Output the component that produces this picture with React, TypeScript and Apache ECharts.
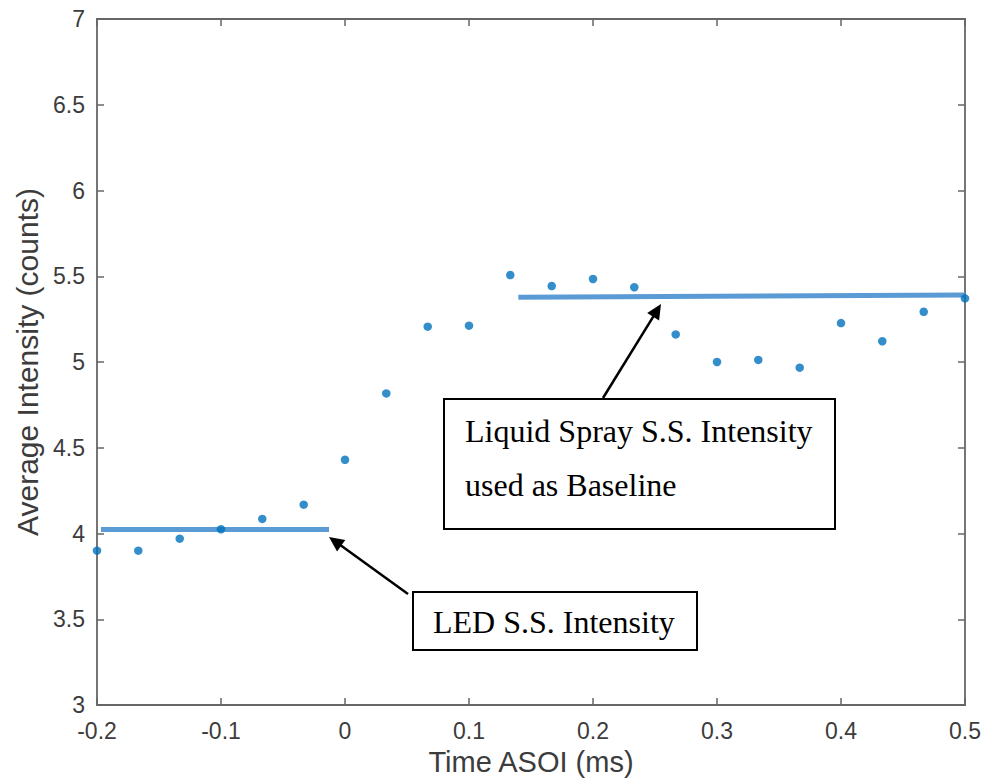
import React, { useEffect, useRef } from "react";
import * as echarts from "echarts";

const timeMs = [
  -0.2, -0.1667, -0.1333, -0.1, -0.0667, -0.0333, 0, 0.0333, 0.0667, 0.1, 0.1333,
  0.1667, 0.2, 0.2333, 0.2667, 0.3, 0.3333, 0.3667, 0.4, 0.4333, 0.4667, 0.5,
];
const intensity = [
  3.9, 3.9, 3.97, 4.025, 4.085, 4.168, 4.43, 4.817, 5.206, 5.212, 5.507,
  5.443, 5.484, 5.436, 5.161, 5.0, 5.012, 4.967, 5.227, 5.121, 5.293, 5.371,
];
const ledLineX = [-0.1968, -0.0129];
const ledLineY = [4.024, 4.024];
const sprayLineX = [0.1398, 0.5];
const sprayLineY = [5.377, 5.391];
const xTicks = { min: -0.2, max: 0.5, interval: 0.1 };
const yTicks = { min: 3, max: 7, interval: 0.5 };
const ledLabel = "LED S.S. Intensity";
const sprayLabel = ["Liquid Spray S.S. Intensity", "used as Baseline"];

function arrow(x1: number, y1: number, x2: number, y2: number) {
  const dx = x2 - x1;
  const dy = y2 - y1;
  const len = Math.sqrt(dx * dx + dy * dy);
  const ux = dx / len;
  const uy = dy / len;
  const hl = 15;
  const hw = 7;
  const bx = x2 - hl * ux;
  const by = y2 - hl * uy;
  const nx = -uy;
  const ny = ux;
  return [
    {
      type: "line",
      shape: { x1, y1, x2: bx + 2 * ux, y2: by + 2 * uy },
      style: { stroke: "#000", lineWidth: 2.5 },
      z: 100,
    },
    {
      type: "polygon",
      shape: {
        points: [
          [x2, y2],
          [bx + hw * nx, by + hw * ny],
          [bx - hw * nx, by - hw * ny],
        ],
      },
      style: { fill: "#000" },
      z: 100,
    },
  ];
}

export default function App() {
  const ref = useRef<HTMLDivElement>(null);
  useEffect(() => {
    if (!ref.current) return;
    const chart = echarts.init(ref.current, null, { renderer: "svg" });
    const axisColor = "#666666";
    const textColor = "#3c3c3c";
    const font = "'Liberation Sans', Arial, sans-serif";
    const serif = "'Liberation Serif', 'Times New Roman', serif";
    const fmt = (v: number) => String(Math.round(v * 10) / 10);
    const commonX = {
      type: "value",
      min: xTicks.min,
      max: xTicks.max,
      interval: xTicks.interval,
      axisLine: { show: true, onZero: false, lineStyle: { color: axisColor, width: 1.8 } },
      axisTick: { show: true, inside: true, length: 7, lineStyle: { color: axisColor, width: 1.5 } },
      splitLine: { show: false },
    };
    const commonY = {
      type: "value",
      min: yTicks.min,
      max: yTicks.max,
      interval: yTicks.interval,
      axisLine: { show: true, onZero: false, lineStyle: { color: axisColor, width: 1.8 } },
      axisTick: { show: true, inside: true, length: 7, lineStyle: { color: axisColor, width: 1.5 } },
      splitLine: { show: false },
    };
    chart.setOption({
      animation: false,
      backgroundColor: "#ffffff",
      grid: { left: 97, right: 22, top: 19, bottom: 78, containLabel: false },
      xAxis: [
        {
          ...commonX,
          position: "bottom",
          name: "Time ASOI (ms)",
          nameLocation: "middle",
          nameGap: 42,
          nameTextStyle: { color: textColor, fontSize: 29, fontFamily: font },
          axisLabel: { color: textColor, fontSize: 23, fontFamily: font, margin: 14, formatter: fmt },
        },
        { ...commonX, position: "top", axisLabel: { show: false } },
      ],
      yAxis: [
        {
          ...commonY,
          position: "left",
          name: "Average Intensity (counts)",
          nameLocation: "middle",
          nameGap: 55,
          nameTextStyle: { color: textColor, fontSize: 30, fontFamily: font },
          axisLabel: { color: textColor, fontSize: 23, fontFamily: font, margin: 12, formatter: fmt },
        },
        { ...commonY, position: "right", axisLabel: { show: false } },
      ],
      series: [
        {
          type: "line",
          data: ledLineX.map((x, i) => [x, ledLineY[i]]),
          showSymbol: false,
          lineStyle: { color: "#5B9BD5", width: 5 },
          z: 2,
        },
        {
          type: "line",
          data: sprayLineX.map((x, i) => [x, sprayLineY[i]]),
          showSymbol: false,
          lineStyle: { color: "#5B9BD5", width: 5 },
          z: 2,
        },
        {
          type: "scatter",
          data: timeMs.map((x, i) => [x, intensity[i]]),
          symbol: "circle",
          symbolSize: 8.5,
          itemStyle: { color: "#0072BD" },
          clip: false,
          z: 3,
        },
      ],
      graphic: [
        {
          type: "rect",
          shape: { x: 413, y: 592, width: 284, height: 58 },
          style: { fill: "#fff", stroke: "#000", lineWidth: 2 },
          z: 100,
        },
        {
          type: "text",
          x: 433,
          y: 622,
          style: {
            text: ledLabel,
            font: `32px ${serif}`,
            fill: "#000",
            verticalAlign: "middle",
            align: "left",
          },
          z: 101,
        },
        {
          type: "rect",
          shape: { x: 444, y: 399, width: 391, height: 130 },
          style: { fill: "#fff", stroke: "#000", lineWidth: 2 },
          z: 100,
        },
        {
          type: "text",
          x: 465,
          y: 431,
          style: {
            text: sprayLabel[0],
            font: `32px ${serif}`,
            fill: "#000",
            verticalAlign: "middle",
            align: "left",
          },
          z: 101,
        },
        {
          type: "text",
          x: 465,
          y: 485,
          style: {
            text: sprayLabel[1],
            font: `32px ${serif}`,
            fill: "#000",
            verticalAlign: "middle",
            align: "left",
          },
          z: 101,
        },
        ...arrow(408, 594, 329, 537),
        ...arrow(603, 398, 661, 304),
      ],
    });
    return () => chart.dispose();
  }, []);
  return (
    <div
      ref={ref}
      style={{ position: "absolute", left: 0, top: 0, width: 987, height: 783, background: "#fff" }}
    />
  );
}
